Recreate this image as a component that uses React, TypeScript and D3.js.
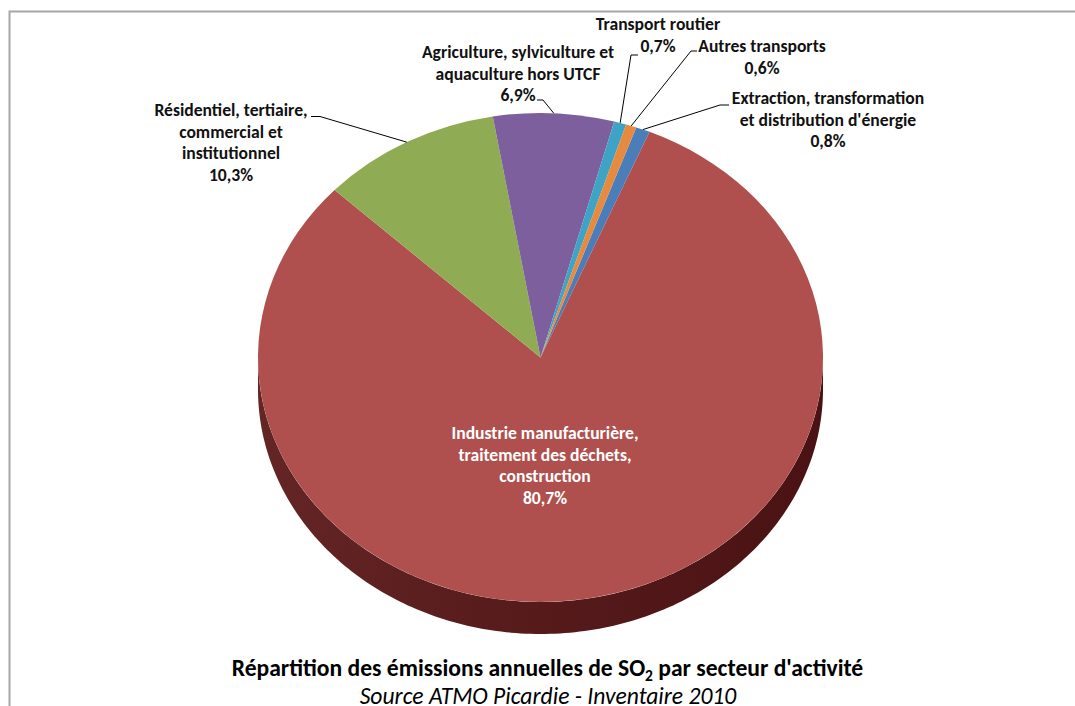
import React from "react";
import * as d3 from "d3";

const categories = [
  "Extraction, transformation et distribution d'énergie",
  "Industrie manufacturière, traitement des déchets, construction",
  "Résidentiel, tertiaire, commercial et institutionnel",
  "Agriculture, sylviculture et aquaculture hors UTCF",
  "Transport routier",
  "Autres transports",
];
const values = [0.8, 80.7, 10.3, 6.9, 0.7, 0.6];
const colors = ["#4a7ebb", "#b0504e", "#8fac54", "#7c5f9c", "#3fa3c6", "#e58a3e"];

// how each label breaks on the page, and where it sits
const labelLines = [
  ["Extraction, transformation", "et distribution d'énergie", "0,8%"],
  ["Industrie manufacturière,", "traitement des déchets,", "construction", "80,7%"],
  ["Résidentiel, tertiaire,", "commercial et", "institutionnel", "10,3%"],
  ["Agriculture, sylviculture et", "aquaculture hors UTCF", "6,9%"],
  ["Transport routier", "0,7%"],
  ["Autres transports", "0,6%"],
];
const labelPos: [number, number][] = [
  [828, 104],
  [545, 439],
  [231, 116],
  [518, 58],
  [658, 30],
  [762, 52],
];
// elbow of each leader line, null when the label sits on its slice
const leaderBends: ([number, number][] | null)[] = [
  [[720, 105], [729, 105]],
  null,
  [[320, 116.5], [311, 116.5]],
  [[543, 100], [537, 100]],
  [[631, 55], [638, 55]],
  [[691, 51], [697, 51]],
];

const width = 1075;
const height = 706;
const cx = 540.5;
const cy = 357.5;
const rx = 282.5;
const ry = 244.5;
const depth = 32;
const rotation = (19.8 * Math.PI) / 180;
const font = "Carlito, Calibri, Lato, sans-serif";

const App: React.FC = () => {
  const slices = d3
    .pie<number>()
    .sort(null)
    .startAngle(rotation)
    .endAngle(rotation + 2 * Math.PI)(values);

  // unit circle, stretched to the ellipse by the group transform
  const arc = d3.arc<d3.PieArcDatum<number>>().innerRadius(0).outerRadius(1);

  // outer wall of the disc, front half only
  const wall = d3
    .area<number>()
    .x((t) => cx + rx * Math.cos(t))
    .y0((t) => cy + ry * Math.sin(t))
    .y1((t) => cy + ry * Math.sin(t) + depth);
  const wallAngles = d3.range(0, 181).map((d) => (d * Math.PI) / 180);

  const edge = (a: number): [number, number] => [
    cx + rx * Math.sin(a),
    cy - ry * Math.cos(a),
  ];
  const leader = d3.line();

  return (
    <svg
      width={width}
      height={height}
      style={{ position: "absolute", left: 0, top: 0, background: "#fff" }}
    >
      <defs>
        <linearGradient id="wallShade" x1="0" x2="1" y1="0" y2="0">
          <stop offset="0" stopColor="#642525" />
          <stop offset="0.5" stopColor="#561a1b" />
          <stop offset="1" stopColor="#4a1214" />
        </linearGradient>
      </defs>

      <path d="M9.5,706V11.5H1075" fill="none" stroke="#a6a6a6" strokeWidth={2} />

      <path d={wall(wallAngles)!} fill="url(#wallShade)" />

      <g transform={`translate(${cx},${cy}) scale(${rx},${ry})`}>
        {slices.map((s, i) => (
          <path key={categories[i]} d={arc(s)!} fill={colors[i]} />
        ))}
      </g>

      {slices.map((s, i) => {
        const bends = leaderBends[i];
        if (!bends) return null;
        const pts = [edge((s.startAngle + s.endAngle) / 2), ...bends];
        return (
          <path
            key={i}
            d={leader(pts)!}
            fill="none"
            stroke="#000"
            strokeWidth={1}
          />
        );
      })}

      {labelLines.map((lines, i) => (
        <text
          key={i}
          x={labelPos[i][0]}
          y={labelPos[i][1]}
          textAnchor="middle"
          fontFamily={font}
          fontSize={17.6}
          fontWeight={700}
          fill={i === 1 ? "#fff" : "#111"}
        >
          {lines.map((l, j) => (
            <tspan key={j} x={labelPos[i][0]} dy={j === 0 ? 0 : 21.5}>
              {l}
            </tspan>
          ))}
        </text>
      ))}

      <text
        x={547.5}
        y={676}
        textAnchor="middle"
        fontFamily={font}
        fontSize={23.6}
        fontWeight={700}
        fill="#000"
      >
        Répartition des émissions annuelles de SO
        <tspan fontSize={15.5} dy={5}>
          2
        </tspan>
        <tspan dy={-5}> par secteur d'activité</tspan>
      </text>
      <text
        x={548}
        y={704}
        textAnchor="middle"
        fontFamily={font}
        fontSize={23.6}
        fontStyle="italic"
        fill="#000"
      >
        Source ATMO Picardie - Inventaire 2010
      </text>
    </svg>
  );
};

export default App;
